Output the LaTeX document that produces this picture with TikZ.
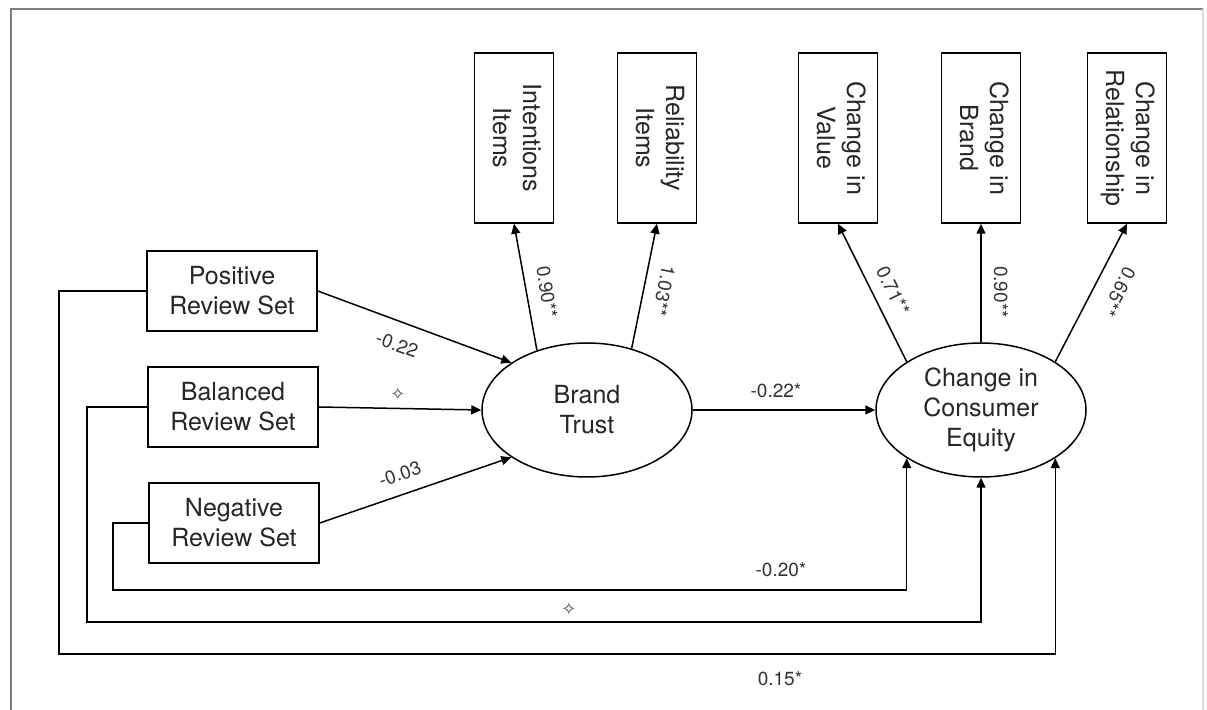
\documentclass[tikz,border=0pt]{standalone}
\usepackage{fontspec}
\setmainfont{TeX Gyre Heros}
\newfontfamily\symfont{DejaVu Sans}
\usepackage{graphicx}
\usetikzlibrary{arrows.meta,shapes.geometric}

\begin{document}
\begin{tikzpicture}[x=0.5pt,y=-0.5pt,
  line width=0.75pt,
  txt/.style={font=\fontsize{12.5}{15}\selectfont, text=black!85},
  sidebox/.style={draw, txt, align=center, minimum width=85pt, minimum height=40pt, inner sep=0pt},
  topbox/.style={draw, txt, minimum width=39.5pt, minimum height=85pt, inner sep=0pt},
  latent/.style={draw, ellipse, txt, align=center, minimum width=105pt, minimum height=67pt, inner sep=0pt},
  link/.style={-{Triangle[length=5pt,width=4.5pt]}},
  coef/.style={font=\fontsize{9.5}{11}\selectfont, text=black!80, inner sep=1pt},
  mark4/.style={font=\symfont\fontsize{9}{10}\selectfont, text=black!70, inner sep=0pt},
]
\useasboundingbox (0,0) rectangle (1207,710);

% outer frame
\draw[line width=1.25pt, black!50] (11,720) -- (11,9) -- (1203,9);
\draw[line width=1pt, black!15] (1203,9) -- (1203,720);

% review-set conditions
\node[sidebox] (pos) at (232,291) {Positive\\Review Set};
\node[sidebox] (bal) at (233,407) {Balanced\\Review Set};
\node[sidebox] (neg) at (234,523) {Negative\\Review Set};

% latent constructs
\node[latent] (bt)  at (587,410) {Brand\\Trust};
\node[latent] (cce) at (981,410) {Change in\\Consumer\\Equity};

% indicators
\node[topbox] (int) at (514,138) {\rotatebox{-90}{\begin{tabular}{@{}c@{}}Intentions\\Items\end{tabular}}};
\node[topbox] (rel) at (657,138) {\rotatebox{-90}{\begin{tabular}{@{}c@{}}Reliability\\Items\end{tabular}}};
\node[topbox] (val) at (838,138) {\rotatebox{-90}{\begin{tabular}{@{}c@{}}Change in\\Value\end{tabular}}};
\node[topbox] (brd) at (981,138) {\rotatebox{-90}{\begin{tabular}{@{}c@{}}Change in\\Brand\end{tabular}}};
\node[topbox] (rls) at (1127,138) {\rotatebox{-90}{\begin{tabular}{@{}c@{}}Change in\\Relationship\end{tabular}}};

% route corners for the direct effects
\coordinate (nr) at (113,590);
\coordinate (br) at (87,622);
\coordinate (pr) at (59,654);

% paths to brand trust
\draw[link] (pos.east) -- (bt.148);
\draw[link] (bal.east) -- (bt.west);
\draw[link] (neg.east) -- (bt.212);
\draw[link] (bt.east) -- (cce.west);

% loadings
\draw[link] (bt.130) -- (int.south);
\draw[link] (bt.54) -- (rel.south);
\draw[link] (cce.147) -- (val.south);
\draw[link] (cce.north) -- (brd.south);
\draw[link] (cce.33) -- (rls.south);

% direct effects on consumer equity
\draw[link] (neg.west) -| (nr) -| (cce.213);
\draw[link] (bal.west) -| (br) -| (cce.south);
\draw[link] (pos.west) -| (pr) -| (cce.327);

% coefficients
\node[coef, rotate=-20] (cpos) at (397,345) {-0.22};
\node[mark4] (cbal) at (398,394) {✧};
\node[coef, rotate=19] (cneg) at (400,474) {-0.03};
\node[coef] (cbt) at (776,391) {-0.22*};
\node[coef, rotate=-81] (cint) at (547,292) {0.90**};
\node[coef, rotate=-101] (crel) at (664,291) {1.03**};
\node[coef, rotate=-64] (cval) at (893,291) {0.71**};
\node[coef, rotate=-90] (cbrd) at (1001,292) {0.90**};
\node[coef, rotate=-117] (crls) at (1119,292) {0.65**};
\node[coef] (cdn) at (781,570) {-0.20*};
\node[mark4] (cdb) at (569,609) {✧};
\node[coef] (cdp) at (780,679) {0.15*};
\end{tikzpicture}
\end{document}
